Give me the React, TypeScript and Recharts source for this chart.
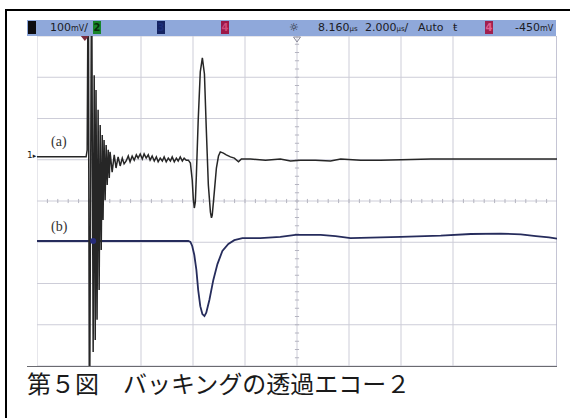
import React from 'react';
import {
  LineChart,
  Line,
  XAxis,
  YAxis,
  CartesianGrid,
  ReferenceLine,
  ReferenceDot,
} from 'recharts';

// Channel (a): time in µs, level in mV (100 mV/div)
const timeA = [
  -1.84, 0.05, 0.09, 0.13, 0.18, 0.26, 0.32, 0.36, 0.4, 0.43, 0.47, 0.51, 0.55, 0.59,
  0.63, 0.67, 0.7, 0.74, 0.78, 0.82, 0.86, 0.9, 0.94, 0.97, 1.05, 1.13, 1.2, 1.28, 1.36, 1.44,
  1.51, 1.59, 1.67, 1.74, 1.82, 1.9, 1.98, 2.05, 2.13, 2.21, 2.28, 2.36, 2.44, 2.51, 2.59, 2.67,
  2.75, 2.82, 2.9, 2.98, 3.05, 3.13, 3.21, 3.29, 3.36, 3.44, 3.52, 3.59, 3.67, 3.75, 3.82, 3.9,
  3.98, 4.06, 4.13, 4.17, 4.21, 4.25, 4.29, 4.36, 4.44, 4.52, 4.6, 4.67, 4.75, 4.83, 4.87, 4.9,
  4.98, 5.06, 5.14, 5.21, 5.33, 5.44, 5.6, 5.75, 5.91, 6.02, 6.37, 6.95, 7.52, 7.91, 8.29, 8.87,
  9.45, 9.84, 10.61, 11.38, 13.31, 18.16,
];
const levelA = [
  107, 107, 124, 600, -600, 600, -366, 305, -337, 269, -288, 221, -216, 184,
  -119, 160, -46, 148, 2, 136, 39, 124, 56, 119, 70, 112, 80, 107, 85, 104,
  90, 97, 109, 95, 109, 99, 112, 104, 114, 102, 114, 104, 112, 99, 109, 97,
  107, 95, 104, 97, 107, 95, 104, 97, 107, 95, 104, 97, 107, 97, 104, 99,
  99, 92, 51, 7, -17, -2, 63, 196, 313, 347, 308, 177, 39, -27, -41, -34,
  22, 80, 109, 119, 116, 112, 107, 104, 95, 102, 102, 99, 102, 97, 99, 99,
  97, 102, 99, 99, 102, 102,
];

// Channel (b): time in µs, level in mV
const timeB = [
  -1.84, 3.98, 4.06, 4.13, 4.21, 4.29, 4.36, 4.44, 4.52, 4.6, 4.67, 4.79, 4.94, 5.1, 5.29, 5.52,
  5.75, 6.06, 6.75, 7.52, 8.1, 9.07, 9.64, 10.22, 11.38, 12.15, 13.69, 14.85, 16.0, 16.77, 17.35,
  17.85, 18.16,
];
const levelB = [
  -97, -97, -99, -109, -131, -167, -216, -255, -274, -279, -271, -240, -192, -153, -121, -104,
  -95, -90, -90, -87, -82, -82, -85, -90, -88, -87, -84, -80, -79, -81, -85,
  -88, -91,
];

// graticule: 10 x 2 µs/div, 8 x 100 mV/div, delay 8.160 µs at centre
const gridTime = [-1.84, 0.16, 2.16, 4.16, 6.16, 8.16, 10.16, 12.16, 14.16, 16.16, 18.16];
const gridLevel = [-400, -300, -200, -100, 0, 100, 200, 300, 400];
const centreTime = 8.16;

const minorTime: number[] = [];
for (let k = 1; k < 50; k++) minorTime.push(-1.84 + k * 0.4);
const minorLevel: number[] = [];
for (let k = 1; k < 40; k++) minorLevel.push(-400 + k * 20);

const seriesA = timeA.map((t, i) => ({ t, v: levelA[i] }));
const seriesB = timeB.map((t, i) => ({ t, v: levelB[i] }));

const sans = '"DejaVu Sans", Arial, sans-serif';

const ChBox = ({ left, bg, fg, label }: { left: number; bg: string; fg: string; label: string }) => (
  <div
    style={{
      position: 'absolute',
      left,
      top: 21,
      width: 8,
      height: 13,
      background: bg,
      color: fg,
      fontSize: 10,
      lineHeight: '13px',
      textAlign: 'center',
      fontFamily: sans,
      fontWeight: 'bold',
    }}
  >
    {label}
  </div>
);

const BarText = ({ left, children }: { left: number; children: React.ReactNode }) => (
  <div
    style={{
      position: 'absolute',
      left,
      top: 20,
      height: 16,
      lineHeight: '16px',
      fontSize: 11,
      fontFamily: sans,
      color: '#1c1c24',
      whiteSpace: 'nowrap',
    }}
  >
    {children}
  </div>
);

const serifLabel: React.CSSProperties = {
  position: 'absolute',
  left: 51,
  fontSize: 14,
  fontFamily: '"Liberation Serif", serif',
  color: '#333',
};

export default function App() {
  return (
    <div style={{ position: 'relative', width: 570, height: 418, background: '#fff', overflow: 'hidden' }}>
      <style>{'body{margin:0}'}</style>

      {/* page frame */}
      <div style={{ position: 'absolute', left: 5, top: 9, width: 565, height: 2, background: '#000' }} />
      <div style={{ position: 'absolute', left: 5, top: 9, width: 2, height: 409, background: '#000' }} />

      {/* scope status bar */}
      <div style={{ position: 'absolute', left: 27, top: 20, width: 529, height: 16, background: '#8fa8da' }} />
      <ChBox left={28} bg="#0c0c10" fg="#0c0c10" label="1" />
      <BarText left={50}>
        100<span style={{ fontSize: 8 }}>mV</span>/
      </BarText>
      <ChBox left={93} bg="#17852a" fg="#0a2a0a" label="2" />
      <ChBox left={157} bg="#152462" fg="#1d2f7a" label="3" />
      <ChBox left={221} bg="#9c1848" fg="#d04a7a" label="4" />
      <BarText left={289}>☼</BarText>
      <BarText left={318}>
        8.160<span style={{ fontSize: 7 }}>µs</span>
      </BarText>
      <BarText left={365}>
        2.000<span style={{ fontSize: 7 }}>µs</span>/
      </BarText>
      <BarText left={418}>Auto</BarText>
      <BarText left={453}>ŧ</BarText>
      <ChBox left={485} bg="#a0204e" fg="#e06090" label="4" />
      <BarText left={515}>
        -450<span style={{ fontSize: 8 }}>mV</span>
      </BarText>

      {/* channel 1 ground marker */}
      <div style={{ position: 'absolute', left: 27, top: 150, fontSize: 9, fontFamily: sans, color: '#222' }}>
        1<span style={{ fontSize: 7 }}>▸</span>
      </div>

      <div style={{ position: 'absolute', left: 37, top: 36 }}>
        <LineChart width={520} height={330} margin={{ top: 0, right: 0, bottom: 0, left: 0 }}>
          <CartesianGrid stroke="#cdcdd8" strokeWidth={1} />
          <XAxis
            type="number"
            dataKey="t"
            domain={[-1.84, 18.16]}
            ticks={gridTime}
            allowDataOverflow
            hide
          />
          <YAxis type="number" domain={[-400, 400]} ticks={gridLevel} allowDataOverflow hide />
          <ReferenceLine x={18.16} stroke="#a4a4bc" />
          {minorTime.map((t) => (
            <ReferenceLine
              key={'mt' + t}
              segment={[
                { x: t, y: -5 },
                { x: t, y: 5 },
              ]}
              stroke="#b4b4c0"
            />
          ))}
          {minorLevel.map((v) => (
            <ReferenceLine
              key={'ml' + v}
              segment={[
                { x: centreTime - 0.08, y: v },
                { x: centreTime + 0.08, y: v },
              ]}
              stroke="#b4b4c0"
            />
          ))}
          <Line
            data={seriesB}
            dataKey="v"
            type="linear"
            stroke="#262c5c"
            strokeWidth={1.8}
            dot={false}
            isAnimationActive={false}
          />
          <Line
            data={seriesA}
            dataKey="v"
            type="linear"
            stroke="#262626"
            strokeWidth={1.5}
            dot={false}
            isAnimationActive={false}
          />
          <ReferenceDot x={0.32} y={-97} r={3} fill="#262c7c" stroke="none" />
          <ReferenceDot
            x={0}
            y={400}
            r={4}
            shape={(p: any) => <path d={`M${p.cx - 4},${p.cy} L${p.cx + 4},${p.cy} L${p.cx},${p.cy + 5} Z`} fill="#7a2c3c" />}
          />
          <ReferenceDot
            x={centreTime}
            y={400}
            r={4}
            shape={(p: any) => (
              <path
                d={`M${p.cx - 3.5},${p.cy + 1} L${p.cx + 3.5},${p.cy + 1} L${p.cx},${p.cy + 6} Z`}
                fill="none"
                stroke="#8a8a9a"
              />
            )}
          />
        </LineChart>
      </div>

      {/* bottom rule of the screen capture */}
      <div style={{ position: 'absolute', left: 27, top: 366, width: 530, height: 1, background: '#6a6a70' }} />

      {/* trace labels */}
      <div style={{ ...serifLabel, top: 134 }}>(a)</div>
      <div style={{ ...serifLabel, top: 219 }}>(b)</div>

      {/* caption */}
      <div
        style={{
          position: 'absolute',
          left: 27,
          top: 371,
          fontSize: 24,
          lineHeight: '24px',
          fontFamily: '"Noto Sans CJK JP", sans-serif',
          color: '#1a1a1a',
          whiteSpace: 'nowrap',
        }}
      >
        第５図　バッキングの透過エコー２
      </div>
    </div>
  );
}
